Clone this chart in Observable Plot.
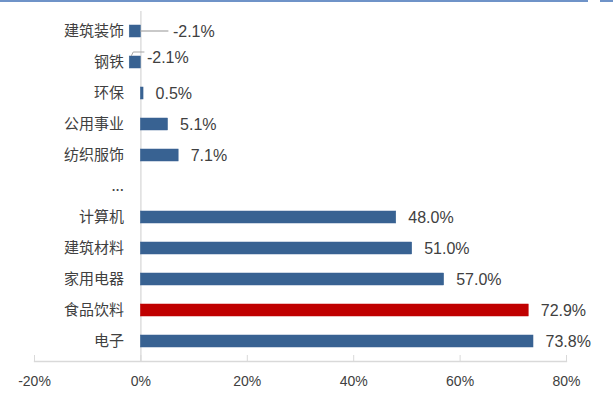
<!DOCTYPE html>
<html>
<head>
<meta charset="utf-8">
<script src="https://cdn.jsdelivr.net/npm/d3@7"></script>
<script src="https://cdn.jsdelivr.net/npm/@observablehq/plot@0.6"></script>
<style>
  html, body { margin: 0; padding: 0; background: #fff; }
  #wrap { position: relative; width: 613px; height: 395px; overflow: hidden; }
  #topline1 { position: absolute; left: 0; top: 0; width: 588px; height: 2px; background: #6f93c8; }
  #topline2 { position: absolute; left: 600px; top: 0; width: 13px; height: 2px; background: #6f93c8; }
</style>
</head>
<body>
<div id="wrap"><div id="topline1"></div><div id="topline2"></div></div>
<script>
const categories = ["建筑装饰", "钢铁", "环保", "公用事业", "纺织服饰", "...", "计算机", "建筑材料", "家用电器", "食品饮料", "电子"];
const values = [-2.1, -2.1, 0.5, 5.1, 7.1, null, 48.0, 51.0, 57.0, 72.9, 73.8];
const highlight = ["食品饮料"];
const xTicks = [-20, 0, 20, 40, 60, 80];

const data = categories.map((c, i) => ({cat: c, v: values[i]}));
const bars = data.filter(d => d.v !== null);
const posLabels = bars.filter(d => d.v >= 0);
const negLabels = bars.filter(d => d.v < 0);

const fmt = v => v.toFixed(1) + "%";
const numFont = "'Liberation Sans', 'Noto Sans', sans-serif";
const cjkFont = "'Noto Sans CJK SC', sans-serif";

const chart = Plot.plot({
  width: 613,
  height: 395,
  marginLeft: 34,
  marginRight: 47,
  marginTop: 11,
  marginBottom: 34,
  style: {fontFamily: numFont, background: "transparent"},
  x: {domain: [-20, 80], ticks: xTicks, label: null},
  y: {domain: categories, paddingInner: 0.62, paddingOuter: 0.31, axis: null, label: null},
  marks: [
    Plot.frame({anchor: "bottom", stroke: "#d9d9d9", strokeWidth: 1.3}),
    Plot.axisX({ticks: xTicks, tickSize: -6, stroke: "#d9d9d9", text: null, label: null}),
    Plot.axisX({ticks: xTicks, tickSize: 0, tickPadding: 15, tickFormat: d => d + "%", fill: "#404040", fontSize: 14, fontFamily: numFont, label: null}),
    Plot.ruleX([0], {stroke: "#d9d9d9", strokeWidth: 1.3}),
    Plot.barX(bars, {
      y: "cat", x: "v",
      fill: d => highlight.includes(d.cat) ? "#c00000" : "#386292",
      stroke: d => highlight.includes(d.cat) ? "#c00000" : "#386292",
      strokeWidth: 0.5
    }),
    // category labels anchored at the zero line
    Plot.text(data, {
      y: "cat", x: () => 0, text: "cat", dx: -17, textAnchor: "end",
      fill: "#404040", fontSize: 15, fontFamily: cjkFont
    }),
    // positive value labels
    Plot.text(posLabels, {
      y: "cat", x: "v", text: d => fmt(d.v), dx: 12, textAnchor: "start",
      fill: "#404040", fontSize: 16, fontFamily: numFont
    }),
    Plot.text(negLabels.slice(0, 1), {
      y: "cat", x: () => 0, text: d => fmt(d.v), dx: 32, textAnchor: "start",
      fill: "#404040", fontSize: 16, fontFamily: numFont
    }),
    Plot.text(negLabels.slice(1), {
      y: "cat", x: () => 0, text: d => fmt(d.v), dx: 6, dy: -5, textAnchor: "start",
      fill: "#404040", fontSize: 16, fontFamily: numFont
    })
  ]
});

document.getElementById("wrap").appendChild(chart);

// leader lines drawn through the chart's own scales
const xs = chart.scale("x"), ys = chart.scale("y");
const svg = d3.select(chart);
negLabels.slice(0, 1).forEach(d => {
  const yc = ys.apply(d.cat) + ys.bandwidth / 2;
  svg.append("line")
    .attr("x1", xs.apply(0)).attr("x2", xs.apply(0) + 28)
    .attr("y1", yc).attr("y2", yc)
    .attr("stroke", "#a6a6a6").attr("stroke-width", 1.2);
});
negLabels.slice(1, 2).forEach(d => {
  const yt = ys.apply(d.cat);
  const x0 = xs.apply(d.v);
  svg.append("polyline")
    .attr("points", `${x0 + 2},${yt} ${x0 + 4},${yt - 4} ${xs.apply(0) + 4},${yt - 4}`)
    .attr("fill", "none").attr("stroke", "#a6a6a6").attr("stroke-width", 1);
});
chart.style.position = "absolute";
chart.style.left = "0px";
chart.style.top = "0px";
</script>
</body>
</html>
